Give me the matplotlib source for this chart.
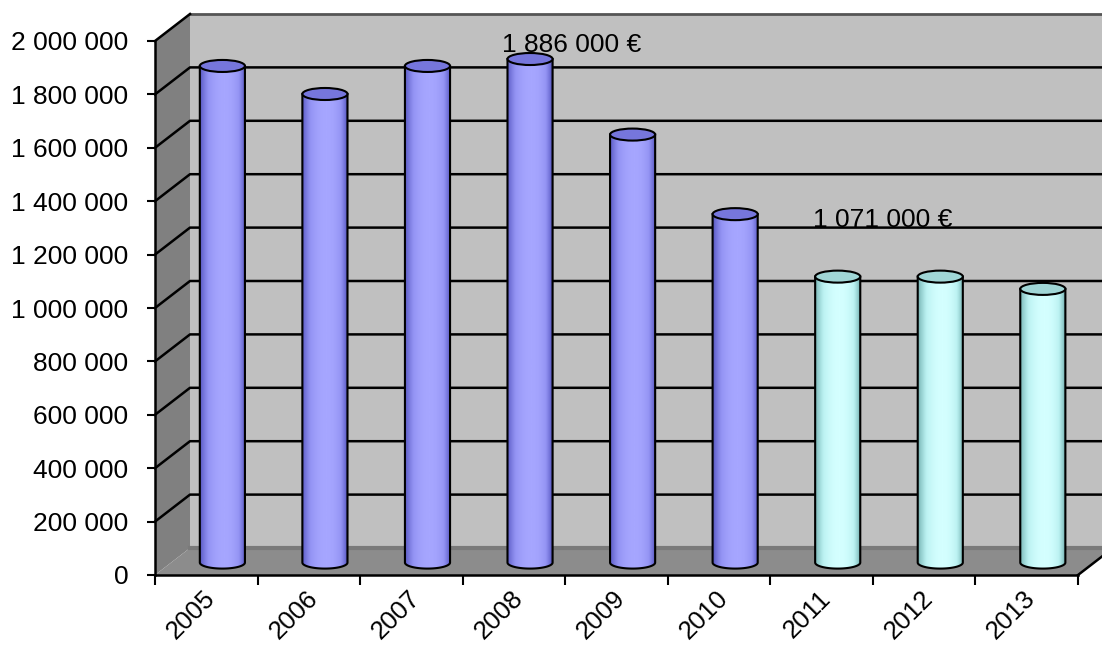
import numpy as np
import matplotlib.pyplot as plt
from matplotlib.patches import Polygon, Ellipse
from matplotlib.colors import LinearSegmentedColormap

plt.rcParams['font.family'] = ['Liberation Sans', 'DejaVu Sans']

# data
years = ['2005', '2006', '2007', '2008', '2009', '2010', '2011', '2012', '2013']
values = [1860000, 1755000, 1860000, 1886000, 1603000, 1305000, 1071000, 1071000, 1025000]
is_forecast = [False, False, False, False, False, False, True, True, True]
notes = [(3, '1 886 000 €'), (6, '1 071 000 €')]  # (bar index, label)
yticks = list(range(0, 2000001, 200000))

W, H = 1102, 649
fig = plt.figure(figsize=(W / 100, H / 100), dpi=100)
ax = fig.add_axes([155 / W, 74 / H, 923 / W, 534 / H])
ax.set_xlim(0, 9)
ax.set_ylim(0, 2000000)
ax.patch.set_visible(False)

# 3d depth offset (back wall vs front plane)
dx = 35 / 923 * 9
dy = 27 / 534 * 2000000
ymax = 2000000
xr = 9.6

# walls and floor
ax.add_patch(Polygon([(dx, dy), (xr, dy), (xr, ymax + dy), (dx, ymax + dy)],
                     closed=True, fc='#c0c0c0', ec='none', zorder=0, clip_on=False))
ax.add_patch(Polygon([(0, 0), (dx, dy), (dx, ymax + dy), (0, ymax)],
                     closed=True, fc='#808080', ec='none', zorder=0, clip_on=False))
ax.add_patch(Polygon([(0, 0), (9, 0), (9 + dx, dy), (xr, dy), (dx, dy)],
                     closed=True, fc='#8c8c8c', ec='none', zorder=0.5, clip_on=False))
ax.plot([dx, xr], [dy, dy], color='#7a7a7a', lw=3, zorder=0.6, clip_on=False)
ax.plot([dx, xr], [ymax + dy, ymax + dy], color='#555555', lw=2, zorder=1, clip_on=False)
ax.plot([0, dx], [ymax, ymax + dy], color='black', lw=1.8, zorder=1, clip_on=False)
ax.plot([9, 9 + dx], [0, dy], color='black', lw=1.8, zorder=1, clip_on=False)

# grid lines on back + left wall
for v in yticks[1:-1]:
    ax.plot([0, dx, xr], [v, v + dy, v + dy], color='black', lw=1.8, zorder=1, clip_on=False)

# cylinders
t = np.linspace(0, 1, 80)
shade = np.clip(np.sin(np.pi * (0.03 + 0.97 * t ** 1.15)), 0, 1) ** 0.6
shade = shade[None, :]
cm_hist = LinearSegmentedColormap.from_list('h', ['#34347c', '#6868d0', '#9494f4', '#a6a6ff'])
cm_fc = LinearSegmentedColormap.from_list('f', ['#457474', '#88c4c4', '#bcf2f2', '#d4ffff'])

depth = 0.46
w = 0.44
eh = 45000
base = depth * dy
for i, v in enumerate(values):
    cx = i + 0.5 + depth * dx
    cm = cm_fc if is_forecast[i] else cm_hist
    top_fc = '#a0d6d6' if is_forecast[i] else '#7676dc'
    a = np.linspace(np.pi, 2 * np.pi, 40)
    arc = np.column_stack([cx + w / 2 * np.cos(a), base + eh / 2 * np.sin(a)])
    outline = np.vstack([[(cx - w / 2, base + v)], arc, [(cx + w / 2, base + v)]])
    body = Polygon(outline, closed=True, fc='none', ec='none', zorder=3)
    ax.add_patch(body)
    im = ax.imshow(shade, cmap=cm, vmin=0, vmax=1, aspect='auto', interpolation='bilinear',
                   extent=[cx - w / 2, cx + w / 2, base - eh / 2, base + v], zorder=3)
    im.set_clip_path(body)
    ax.plot(outline[:, 0], outline[:, 1], color='black', lw=1.5, zorder=4)
    ax.add_patch(Ellipse((cx, base + v), w, eh, fc=top_fc, ec='black', lw=1.5, zorder=5))

note_pos = [(4.06, 1985000), (7.10, 1330000)]
for (i, label), (nx, ny) in zip(notes, note_pos):
    ax.text(nx, ny, label, ha='center', va='center', fontsize=19, color='black', zorder=6)

# axes
ax.set_yticks(yticks)
ax.set_yticklabels([f'{v:,}'.replace(',', ' ') for v in yticks])
ax.set_xticks(range(10))
ax.set_xticklabels([])
ax.set_xticks(np.arange(9) + 0.55, minor=True)
ax.set_xticklabels(years, minor=True, rotation=45, ha='right', va='center',
                   rotation_mode='anchor', fontsize=18.5)
ax.tick_params(axis='y', direction='out', length=6, width=1.5, pad=13, labelsize=19)
ax.tick_params(axis='x', which='major', direction='out', length=7, width=1.5)
ax.tick_params(axis='x', which='minor', length=0, pad=14)
for side in ['top', 'right']:
    ax.spines[side].set_visible(False)
for side in ['left', 'bottom']:
    ax.spines[side].set_linewidth(1.8)
    ax.spines[side].set_zorder(6)
ax.set_ylim(0, 2000000)

fig.savefig('out.png', dpi=100)
